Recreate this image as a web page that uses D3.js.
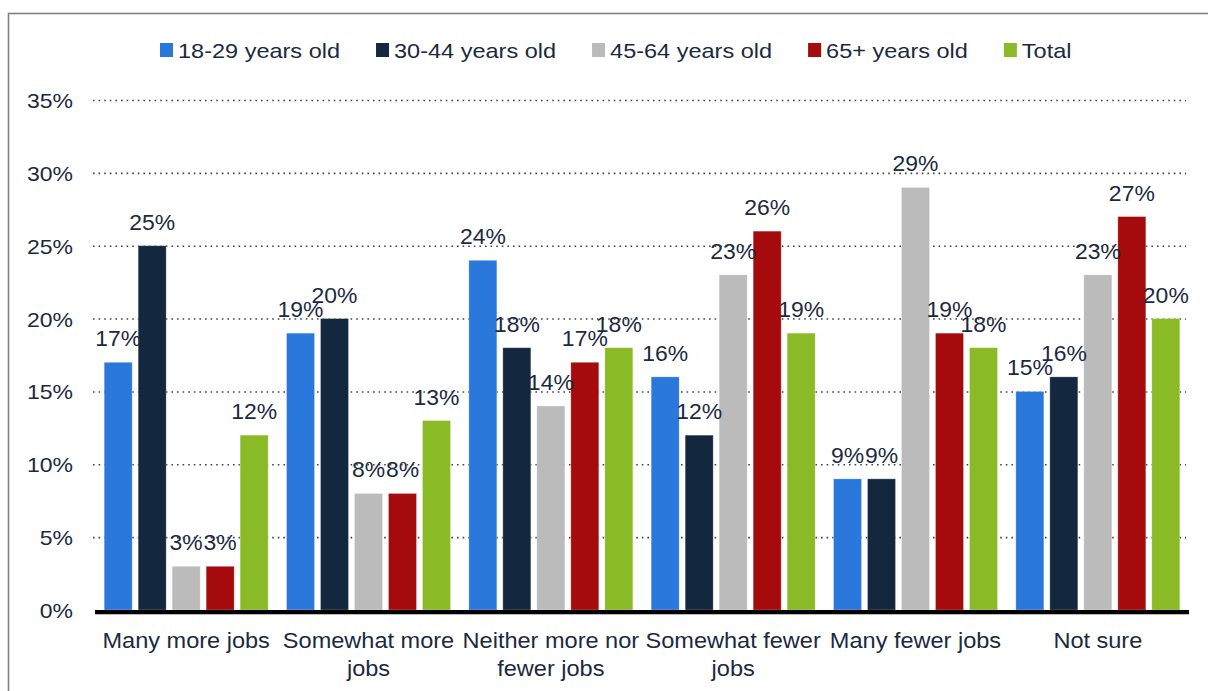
<!DOCTYPE html>
<html><head><meta charset="utf-8">
<script src="https://cdn.jsdelivr.net/npm/d3@7"></script>
<style>
html,body{margin:0;padding:0;background:#fff;}
svg{display:block;font-family:"Liberation Sans",Arial,sans-serif;}
</style></head>
<body><svg id="chart" width="1208" height="691"></svg>
<script>
const categories = ["Many more jobs","Somewhat more jobs","Neither more nor fewer jobs","Somewhat fewer jobs","Many fewer jobs","Not sure"];
const seriesNames = ["18-29 years old","30-44 years old","45-64 years old","65+ years old","Total"];
const s1829 = [17,19,24,16,9,15];
const s3044 = [25,20,18,12,9,16];
const s4564 = [3,8,14,23,29,23];
const s65 = [3,8,17,26,19,27];
const sTotal = [12,13,18,19,18,20];
const seriesValues = [s1829,s3044,s4564,s65,sTotal];
const colors = ["#2a78dc","#13273f","#bbbbbb","#a50b0d","#8aba26"];
const yTicks = [0,5,10,15,20,25,30,35];

(function(){
const textColor = "#1b2a41";
const svg = d3.select("#chart");

// frame
svg.append("rect").attr("x",8.5).attr("y",13.5).attr("width",1250).attr("height",720)
  .attr("fill","none").attr("stroke","#808080").attr("stroke-width",1.6);

const pLeft = 95, pRight = 1189, pTop = 100, pBottom = 610;
const x0 = d3.scaleBand().domain(categories).range([pLeft,pRight]).padding(0);
const x1 = d3.scaleBand().domain(seriesNames).range([0,x0.bandwidth()]).paddingInner(0.176).paddingOuter(0.27);
const y = d3.scaleLinear().domain([0,35]).range([pBottom,pTop]);

// gridlines
svg.append("g").selectAll("line").data(yTicks.filter(d=>d>0)).join("line")
  .attr("x1",93).attr("x2",1186).attr("y1",d=>y(d)+0.5).attr("y2",d=>y(d)+0.5)
  .attr("stroke","#444").attr("stroke-width",1.6).attr("stroke-dasharray","1.6,4");

// y tick labels
svg.append("g").selectAll("text").data(yTicks).join("text")
  .attr("transform",d=>`translate(73,${y(d)+8}) scale(1.15,1)`)
  .attr("text-anchor","end").attr("font-size",20).attr("fill",textColor)
  .text(d=>d+"%");

// bars
const groups = svg.append("g").selectAll("g").data(categories).join("g")
  .attr("transform",d=>`translate(${x0(d)},0)`);
groups.selectAll("rect").data((c,i)=>seriesNames.map((s,j)=>({s,j,v:seriesValues[j][i]}))).join("rect")
  .attr("x",d=>x1(d.s)).attr("width",x1.bandwidth())
  .attr("y",d=>y(d.v)).attr("height",d=>y(0)-y(d.v))
  .attr("fill",d=>colors[d.j]).attr("stroke","#ffffff").attr("stroke-opacity",0.35).attr("stroke-width",0.8);
groups.selectAll("text").data((c,i)=>seriesNames.map((s,j)=>({s,j,v:seriesValues[j][i]}))).join("text")
  .attr("transform",d=>`translate(${x1(d.s)+x1.bandwidth()/2},${y(d.v)-16}) scale(1.02,1)`)
  .attr("text-anchor","middle").attr("font-size",22.5).attr("fill",textColor)
  .text(d=>d.v+"%");

// axis line
svg.append("line").attr("x1",pLeft).attr("x2",pRight).attr("y1",612).attr("y2",612)
  .attr("stroke","#000").attr("stroke-width",4);
svg.append("line").attr("x1",pLeft).attr("x2",pRight).attr("y1",614.5).attr("y2",614.5)
  .attr("stroke","#bbbbbb").attr("stroke-width",1);

// category labels with wrapping
const catSx = 1.07, catFs = 22;
const catG = svg.append("g");
categories.forEach(c=>{
  const cx = x0(c)+x0.bandwidth()/2;
  const words = c.split(" ");
  const lines = [];
  let cur = "";
  const meas = catG.append("text").attr("font-size",catFs).attr("visibility","hidden");
  words.forEach(w=>{
    const trial = cur ? cur+" "+w : w;
    meas.text(trial);
    if (cur && meas.node().getComputedTextLength()*catSx > x0.bandwidth()) { lines.push(cur); cur = w; }
    else cur = trial;
  });
  lines.push(cur);
  meas.remove();
  lines.forEach((ln,k)=>{
    catG.append("text").attr("transform",`translate(${cx},${648+k*27.5}) scale(${catSx},1)`)
      .attr("text-anchor","middle").attr("font-size",catFs).attr("fill",textColor).text(ln);
  });
});

// legend
const legSx = 1.12, legFs = 21;
const leg = svg.append("g");
let lx = 160;
seriesNames.forEach((s,j)=>{
  leg.append("rect").attr("x",lx).attr("y",43).attr("width",13).attr("height",14).attr("fill",colors[j]);
  const t = leg.append("text").attr("transform",`translate(${lx+18},57.5) scale(${legSx},1)`)
    .attr("font-size",legFs).attr("fill",textColor).text(s);
  const w = t.node().getComputedTextLength()*legSx;
  lx += 18 + w + 36;
});
})();
</script></body></html>
